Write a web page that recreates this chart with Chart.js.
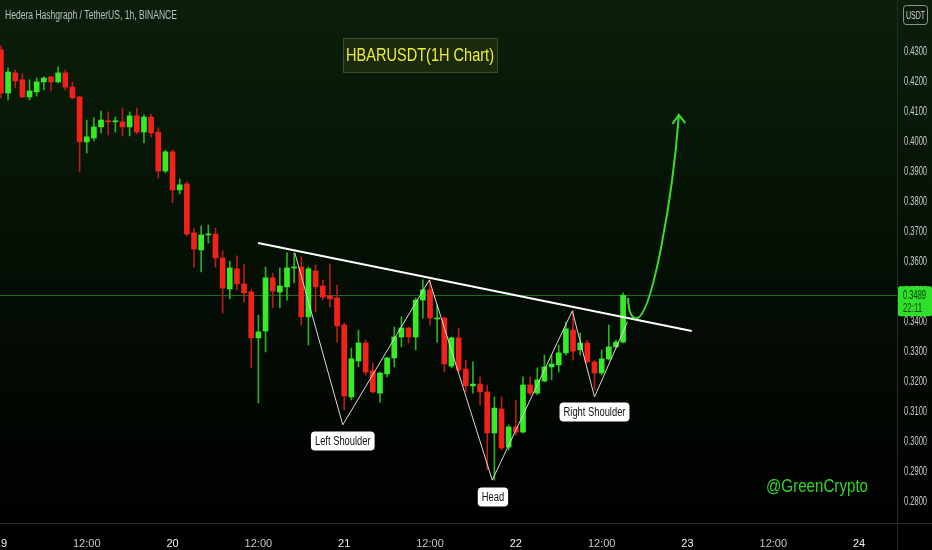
<!DOCTYPE html>
<html lang="en">
<head>
<meta charset="UTF-8">
<title>HBARUSDT 1H</title>
<style>
* { margin: 0; padding: 0; box-sizing: border-box; }
body { background: #000; }
.chart-container { width: 932px; height: 550px; position: relative; }
</style>
</head>
<body>
<div class="chart-container"><canvas id="chart"></canvas></div>

<script src="https://cdn.jsdelivr.net/npm/chart.js@4"></script>
<script>
// candles: one per hour, hour 0 = 19th 00:00
const OPEN = [0.4307,0.4163,0.4230,0.4207,0.4150,0.4167,0.4200,0.4217,0.4200,0.4230,
  0.4183,0.4150,0.4000,0.4013,0.4050,0.4070,0.4067,0.4067,0.4050,0.4087,
  0.4033,0.4083,0.4033,0.3903,0.3967,0.3840,0.3860,0.3697,0.3640,0.3690,
  0.3693,0.3613,0.3510,0.3577,0.3527,0.3500,0.3347,0.3370,0.3547,0.3500,
  0.3517,0.3580,0.3583,0.3417,0.3570,0.3520,0.3487,0.3480,0.3390,0.3150,
  0.3270,0.3330,0.3237,0.3163,0.3227,0.3280,0.3350,0.3380,0.3350,0.3473,
  0.3507,0.3410,0.3413,0.3253,0.3347,0.3243,0.3187,0.3193,0.3167,0.3030,
  0.3110,0.2983,0.3050,0.3033,0.3190,0.3163,0.3203,0.3250,0.3257,0.3297,
  0.3373,0.3307,0.3330,0.3267,0.3230,0.3277,0.3317,0.3333];
const HIGH = [0.4320,0.4247,0.4240,0.4227,0.4207,0.4213,0.4217,0.4217,0.4250,0.4240,
  0.4200,0.4153,0.4073,0.4080,0.4103,0.4100,0.4083,0.4113,0.4100,0.4113,
  0.4090,0.4093,0.4047,0.3973,0.3973,0.3877,0.3867,0.3713,0.3720,0.3723,
  0.3713,0.3637,0.3603,0.3620,0.3593,0.3507,0.3423,0.3583,0.3563,0.3580,
  0.3630,0.3630,0.3617,0.3583,0.3590,0.3540,0.3593,0.3523,0.3397,0.3313,
  0.3373,0.3340,0.3263,0.3233,0.3283,0.3383,0.3417,0.3383,0.3480,0.3540,
  0.3540,0.3457,0.3417,0.3350,0.3380,0.3273,0.3267,0.3217,0.3190,0.3150,
  0.3150,0.3057,0.3140,0.3217,0.3217,0.3247,0.3290,0.3290,0.3323,0.3400,
  0.3437,0.3363,0.3340,0.3273,0.3307,0.3390,0.3340,0.3497];
const LOW = [0.4147,0.4140,0.4180,0.4147,0.4140,0.4153,0.4173,0.4170,0.4197,0.4173,
  0.4143,0.3900,0.3963,0.4003,0.4030,0.4023,0.4033,0.4020,0.4020,0.4027,
  0.3997,0.4017,0.3880,0.3897,0.3797,0.3827,0.3687,0.3583,0.3567,0.3663,
  0.3583,0.3430,0.3477,0.3507,0.3467,0.3247,0.3130,0.3300,0.3447,0.3447,
  0.3473,0.3530,0.3390,0.3323,0.3433,0.3473,0.3450,0.3333,0.3107,0.3140,
  0.3250,0.3223,0.3163,0.3133,0.3217,0.3250,0.3317,0.3330,0.3307,0.3413,
  0.3390,0.3333,0.3233,0.3247,0.3233,0.3167,0.3163,0.3123,0.2907,0.2873,
  0.2973,0.2973,0.3023,0.3030,0.3157,0.3157,0.3200,0.3207,0.3233,0.3290,
  0.3273,0.3290,0.3263,0.3173,0.3223,0.3273,0.3313,0.3330];
const CLOSE = [0.4163,0.4233,0.4203,0.4150,0.4170,0.4200,0.4213,0.4200,0.4230,0.4183,
  0.4147,0.4000,0.4017,0.4050,0.4073,0.4067,0.4070,0.4050,0.4087,0.4033,
  0.4083,0.4030,0.3903,0.3967,0.3840,0.3857,0.3693,0.3643,0.3690,0.3693,
  0.3613,0.3513,0.3580,0.3527,0.3497,0.3347,0.3367,0.3547,0.3503,0.3520,
  0.3580,0.3583,0.3417,0.3577,0.3517,0.3483,0.3477,0.3387,0.3153,0.3277,
  0.3330,0.3233,0.3167,0.3230,0.3280,0.3350,0.3380,0.3350,0.3473,0.3507,
  0.3413,0.3413,0.3260,0.3347,0.3240,0.3187,0.3193,0.3167,0.3030,0.3113,
  0.2980,0.3050,0.3033,0.3190,0.3163,0.3207,0.3250,0.3260,0.3297,0.3377,
  0.3303,0.3330,0.3267,0.3230,0.3277,0.3317,0.3333,0.3489];

const X_TICKS = [0, 12, 24, 36, 48, 60, 72, 84, 96, 108, 120];
const X_LABELS = ['19', '12:00', '20', '12:00', '21', '12:00', '22', '12:00', '23', '12:00', '24'];
const Y_TICKS = [0.28, 0.29, 0.30, 0.31, 0.32, 0.33, 0.34, 0.35, 0.36, 0.37, 0.38, 0.39, 0.40, 0.41, 0.42, 0.43, 0.44];

const LAST_PRICE = 0.3489;
const LAST_TIME = '22:11';

// pattern drawing (hour, price)
const NECKLINE = [[35.96, 0.3663], [96.6, 0.3370]];
const ZIGZAG = [[41.1, 0.3630], [47.8, 0.3057], [59.9, 0.3540], [68.7, 0.2873],
  [79.9, 0.3437], [83.0, 0.3150], [87.6, 0.3400]];
const PATTERN_LABELS = [
  { text: 'Left Shoulder', at: [47.8, 0.3003] },
  { text: 'Head', at: [68.8, 0.2817] },
  { text: 'Right Shoulder', at: [83.0, 0.3100] }
];

const GREEN = '#35ec25';
const RED = '#f2221a';
const FONT = '"Liberation Sans", Arial, sans-serif';

const bodies = OPEN.map((o, i) => ({ x: i, y: [o, CLOSE[i]] }));
const wicks = OPEN.map((o, i) => ({ x: i, y: [LOW[i], HIGH[i]] }));
const up = i => CLOSE[i] >= OPEN[i];

// squeeze text horizontally so it fits the narrow look of the original
function fitText(ctx, text, x, y, w) {
  const m = ctx.measureText(text).width;
  ctx.save();
  ctx.translate(x, y);
  ctx.scale(Math.min(1, w / m), 1);
  ctx.fillText(text, 0, 0);
  ctx.restore();
}

const overlay = {
  id: 'overlay',
  beforeDraw(chart) {
    const { ctx, width, height, chartArea } = chart;
    ctx.save();
    const g = ctx.createLinearGradient(0, 0, 0, chartArea.bottom);
    g.addColorStop(0, '#0b1f0b');
    g.addColorStop(0.55, '#040e04');
    g.addColorStop(1, '#000000');
    ctx.fillStyle = g;
    ctx.fillRect(0, 0, width, chartArea.bottom);
    ctx.fillStyle = '#000';
    ctx.fillRect(0, chartArea.bottom, width, height - chartArea.bottom);
    ctx.restore();
  },
  beforeDatasetsDraw(chart) {
    const { ctx, chartArea, scales: { y } } = chart;
    const py = Math.round(y.getPixelForValue(LAST_PRICE)) + 0.5;
    ctx.save();
    ctx.strokeStyle = '#1f6a1f';
    ctx.lineWidth = 1;
    ctx.beginPath();
    ctx.moveTo(chartArea.left, py);
    ctx.lineTo(chartArea.right, py);
    ctx.stroke();
    ctx.restore();
  },
  afterDatasetsDraw(chart) {
    const { ctx, scales: { x, y } } = chart;
    const P = p => [x.getPixelForValue(p[0]), y.getPixelForValue(p[1])];
    ctx.save();
    // zigzag
    ctx.strokeStyle = '#d8d8d8';
    ctx.lineWidth = 1;
    ctx.beginPath();
    ZIGZAG.forEach((p, i) => { const q = P(p); i ? ctx.lineTo(q[0], q[1]) : ctx.moveTo(q[0], q[1]); });
    ctx.stroke();
    // neckline
    ctx.strokeStyle = '#ffffff';
    ctx.lineWidth = 2;
    ctx.beginPath();
    ctx.moveTo(...P(NECKLINE[0]));
    ctx.lineTo(...P(NECKLINE[1]));
    ctx.stroke();
    // projected move
    const s = P([87.7, 0.3480]), c0 = P([87.8, 0.3407]), d = P([89.0, 0.3413]);
    const c1 = P([91.1, 0.3433]), c2 = P([93.9, 0.3807]), e = P([94.8, 0.4090]);
    const w1 = P([93.9, 0.4060]), w2 = P([95.7, 0.4063]);
    ctx.strokeStyle = '#3add2a';
    ctx.lineWidth = 2;
    ctx.beginPath();
    ctx.moveTo(...s);
    ctx.quadraticCurveTo(...c0, ...d);
    ctx.bezierCurveTo(...c1, ...c2, ...e);
    ctx.stroke();
    ctx.beginPath();
    ctx.moveTo(...w1);
    ctx.lineTo(...e);
    ctx.lineTo(...w2);
    ctx.stroke();
    // labels
    ctx.font = '12px ' + FONT;
    ctx.textAlign = 'left';
    ctx.textBaseline = 'middle';
    PATTERN_LABELS.forEach(l => {
      const [cx, cy] = P(l.at);
      const tw = ctx.measureText(l.text).width * 0.78;
      const bw = tw + 8, bh = 19;
      ctx.fillStyle = '#ffffff';
      ctx.beginPath();
      ctx.roundRect(cx - bw / 2, cy - bh / 2, bw, bh, 4);
      ctx.fill();
      ctx.fillStyle = '#111';
      fitText(ctx, l.text, cx - tw / 2, cy + 0.5, tw);
    });
    ctx.restore();
  },
  afterDraw(chart) {
    const { ctx, width, height, chartArea, scales: { y } } = chart;
    ctx.save();
    // price axis labels from the scale ticks
    ctx.fillStyle = '#c8ccc8';
    ctx.font = '12px ' + FONT;
    ctx.textBaseline = 'middle';
    ctx.textAlign = 'left';
    y.ticks.forEach(t => {
      fitText(ctx, t.label, chartArea.right + 7, y.getPixelForValue(t.value), 23);
    });
    // axis separators
    ctx.strokeStyle = '#2a2a2a';
    ctx.lineWidth = 1;
    ctx.beginPath();
    ctx.moveTo(0, chartArea.bottom + 0.5);
    ctx.lineTo(width, chartArea.bottom + 0.5);
    ctx.moveTo(chartArea.right + 0.5, 0);
    ctx.lineTo(chartArea.right + 0.5, height);
    ctx.stroke();
    // last price tag
    const py = y.getPixelForValue(LAST_PRICE);
    ctx.fillStyle = '#2fe02a';
    ctx.beginPath();
    ctx.roundRect(chartArea.right + 1, py - 9, 34, 30, 2);
    ctx.fill();
    ctx.fillStyle = '#0b3a0b';
    fitText(ctx, LAST_PRICE.toFixed(4), chartArea.right + 6, py, 23);
    fitText(ctx, LAST_TIME, chartArea.right + 6, py + 13, 19);
    // currency box
    ctx.fillStyle = '#0c1c0c';
    ctx.strokeStyle = '#8a948a';
    ctx.beginPath();
    ctx.roundRect(903.5, 5.5, 24, 19, 3);
    ctx.fill();
    ctx.stroke();
    ctx.fillStyle = '#d0d4d0';
    ctx.font = '11px ' + FONT;
    fitText(ctx, 'USDT', 906, 15.5, 19);
    // header
    ctx.fillStyle = '#b8c0b8';
    ctx.font = '12px ' + FONT;
    fitText(ctx, 'Hedera Hashgraph / TetherUS, 1h, BINANCE', 5, 16, 172);
    // title box
    ctx.fillStyle = '#1b2a0a';
    ctx.strokeStyle = '#3d4c2a';
    ctx.fillRect(343.5, 38.5, 154, 34);
    ctx.strokeRect(343.5, 38.5, 154, 34);
    ctx.fillStyle = '#ecec3c';
    ctx.font = '19px ' + FONT;
    fitText(ctx, 'HBARUSDT(1H Chart)', 346, 56, 148);
    // watermark
    ctx.fillStyle = '#30d82a';
    ctx.font = '19px ' + FONT;
    fitText(ctx, '@GreenCrypto', 766, 487, 102);
    ctx.restore();
  }
};

new Chart(document.getElementById('chart'), {
  type: 'bar',
  data: {
    datasets: [{
      label: 'body',
      data: bodies,
      grouped: false,
      barThickness: 5,
      minBarLength: 1,
      borderWidth: 0,
      borderSkipped: false,
      backgroundColor: c => up(c.dataIndex) ? GREEN : RED
    }, {
      label: 'wick',
      data: wicks,
      grouped: false,
      barThickness: 1,
      borderWidth: 0,
      borderSkipped: false,
      backgroundColor: c => up(c.dataIndex) ? '#2cb020' : '#b81c16'
    }]
  },
  options: {
    responsive: true,
    maintainAspectRatio: false,
    animation: false,
    layout: { padding: 0 },
    plugins: { legend: { display: false }, tooltip: { enabled: false } },
    scales: {
      x: {
        type: 'linear',
        min: -0.13,
        max: 125.3,
        offset: false,
        grid: { display: false },
        border: { display: false },
        afterBuildTicks: s => { s.ticks = X_TICKS.map(v => ({ value: v })); },
        afterFit: s => { s.height = 27; s.paddingLeft = 0; s.paddingRight = 0; },
        ticks: {
          padding: 6,
          maxRotation: 0,
          autoSkip: false,
          color: c => X_LABELS[c.index].includes(':') ? '#c4c4c4' : '#f0f0f0',
          font: { family: FONT, size: 11 },
          callback: v => X_LABELS[X_TICKS.indexOf(v)]
        }
      },
      y: {
        position: 'right',
        min: 0.2730,
        max: 0.4473,
        grid: { display: false },
        border: { display: false },
        afterBuildTicks: s => { s.ticks = Y_TICKS.map(v => ({ value: v })); },
        afterFit: s => { s.width = 35; s.paddingTop = 0; s.paddingBottom = 0; },
        ticks: {
          display: false,
          callback: v => v.toFixed(4)
        }
      }
    }
  },
  plugins: [overlay]
});
</script>
</body>
</html>
